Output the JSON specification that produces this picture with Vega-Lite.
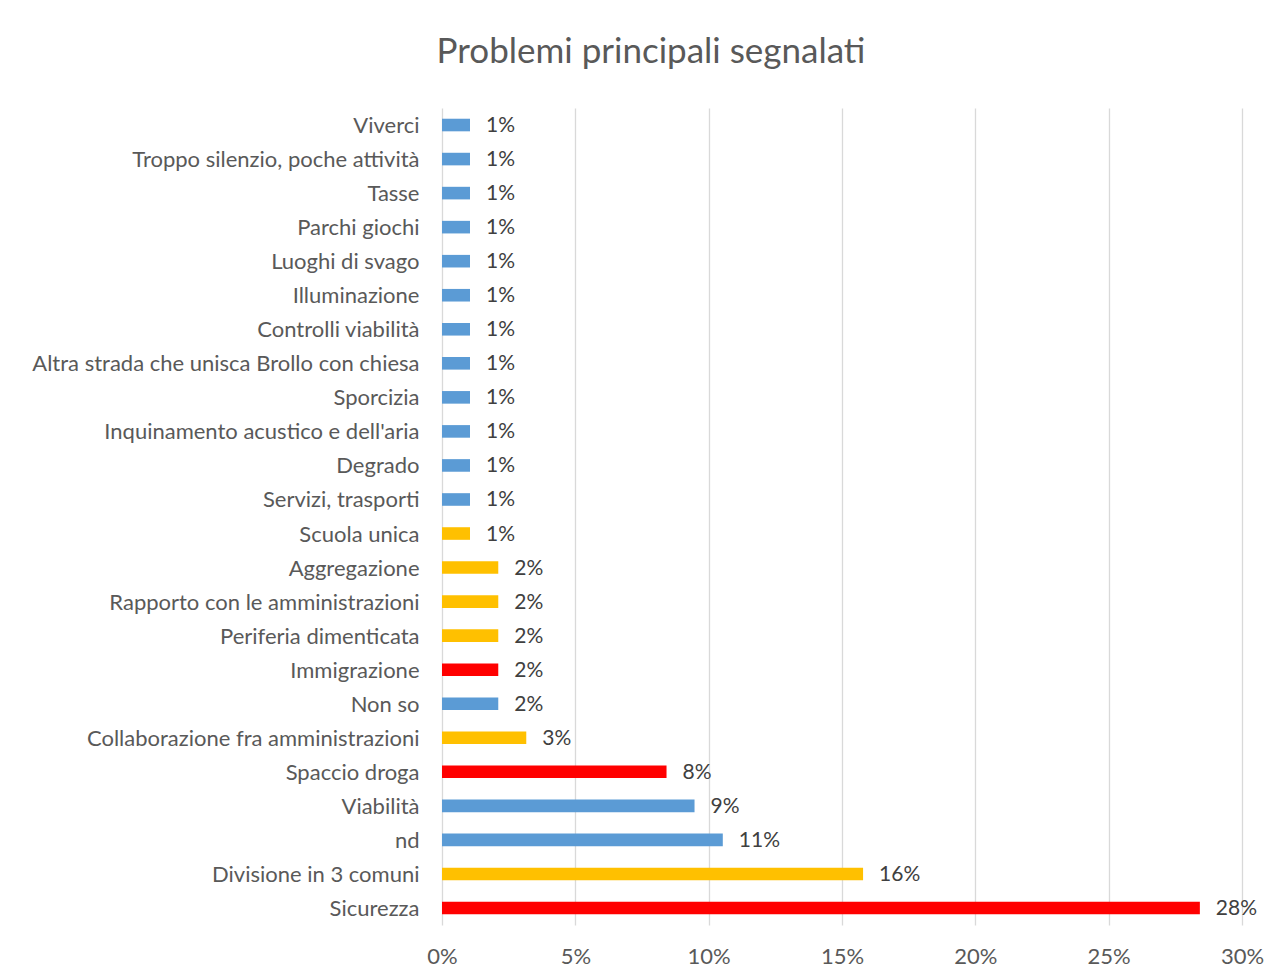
{
  "$schema": "https://vega.github.io/schema/vega-lite/v6.json",
  "autosize": {"type": "none"},
  "width": 800,
  "height": 817,
  "padding": {"left": 442, "top": 108, "right": 37, "bottom": 55},
  "background": "white",
  "title": {
    "text": "Problemi principali segnalati",
    "anchor": "middle",
    "dx": -191,
    "offset": 10,
    "baseline": "alphabetic",
    "font": "Lato",
    "fontSize": 35,
    "fontWeight": "normal",
    "color": "#595959"
  },
  "data": {
    "values": [
      {"problema": "Viverci", "pct": 0.0105, "gruppo": "blu"},
      {"problema": "Troppo silenzio, poche attività", "pct": 0.0105, "gruppo": "blu"},
      {"problema": "Tasse", "pct": 0.0105, "gruppo": "blu"},
      {"problema": "Parchi giochi", "pct": 0.0105, "gruppo": "blu"},
      {"problema": "Luoghi di svago", "pct": 0.0105, "gruppo": "blu"},
      {"problema": "Illuminazione", "pct": 0.0105, "gruppo": "blu"},
      {"problema": "Controlli viabilità", "pct": 0.0105, "gruppo": "blu"},
      {"problema": "Altra strada che unisca Brollo con chiesa", "pct": 0.0105, "gruppo": "blu"},
      {"problema": "Sporcizia", "pct": 0.0105, "gruppo": "blu"},
      {"problema": "Inquinamento acustico e dell'aria", "pct": 0.0105, "gruppo": "blu"},
      {"problema": "Degrado", "pct": 0.0105, "gruppo": "blu"},
      {"problema": "Servizi, trasporti", "pct": 0.0105, "gruppo": "blu"},
      {"problema": "Scuola unica", "pct": 0.0105, "gruppo": "giallo"},
      {"problema": "Aggregazione", "pct": 0.0211, "gruppo": "giallo"},
      {"problema": "Rapporto con le amministrazioni", "pct": 0.0211, "gruppo": "giallo"},
      {"problema": "Periferia dimenticata", "pct": 0.0211, "gruppo": "giallo"},
      {"problema": "Immigrazione", "pct": 0.0211, "gruppo": "rosso"},
      {"problema": "Non so", "pct": 0.0211, "gruppo": "blu"},
      {"problema": "Collaborazione fra amministrazioni", "pct": 0.0316, "gruppo": "giallo"},
      {"problema": "Spaccio droga", "pct": 0.0842, "gruppo": "rosso"},
      {"problema": "Viabilità", "pct": 0.0947, "gruppo": "blu"},
      {"problema": "nd", "pct": 0.1053, "gruppo": "blu"},
      {"problema": "Divisione in 3 comuni", "pct": 0.1579, "gruppo": "giallo"},
      {"problema": "Sicurezza", "pct": 0.2842, "gruppo": "rosso"}
    ]
  },
  "encoding": {
    "y": {
      "field": "problema",
      "type": "nominal",
      "sort": null,
      "scale": {"paddingInner": 0.63, "paddingOuter": 0.315},
      "axis": {
        "title": null,
        "ticks": false,
        "domain": false,
        "labelPadding": 23,
        "labelOffset": 1,
        "labelFont": "Lato",
        "labelFontSize": 22,
        "labelColor": "#595959",
        "labelLimit": 0
      }
    },
    "x": {
      "field": "pct",
      "type": "quantitative",
      "scale": {"domain": [0, 0.3], "nice": false},
      "axis": {
        "title": null,
        "values": [0, 0.05, 0.1, 0.15, 0.2, 0.25, 0.3],
        "format": ".0%",
        "domain": false,
        "ticks": false,
        "grid": true,
        "gridColor": "#D9D9D9",
        "gridWidth": 1.3,
        "labelFlush": false,
        "labelBound": false,
        "labelPadding": 21,
        "labelFont": "Lato",
        "labelFontSize": 22,
        "labelColor": "#595959"
      }
    }
  },
  "layer": [
    {
      "mark": {"type": "bar"},
      "encoding": {
        "color": {
          "field": "gruppo",
          "type": "nominal",
          "scale": {"domain": ["blu", "giallo", "rosso"], "range": ["#5B9BD5", "#FFC000", "#FF0000"]},
          "legend": null
        }
      }
    },
    {
      "mark": {"type": "text", "align": "left", "baseline": "middle", "dx": 16, "dy": 1, "font": "Lato", "fontSize": 21, "color": "#404040"},
      "encoding": {
        "text": {"field": "pct", "type": "quantitative", "format": ".0%"}
      }
    }
  ],
  "config": {
    "view": {"stroke": null}
  }
}
